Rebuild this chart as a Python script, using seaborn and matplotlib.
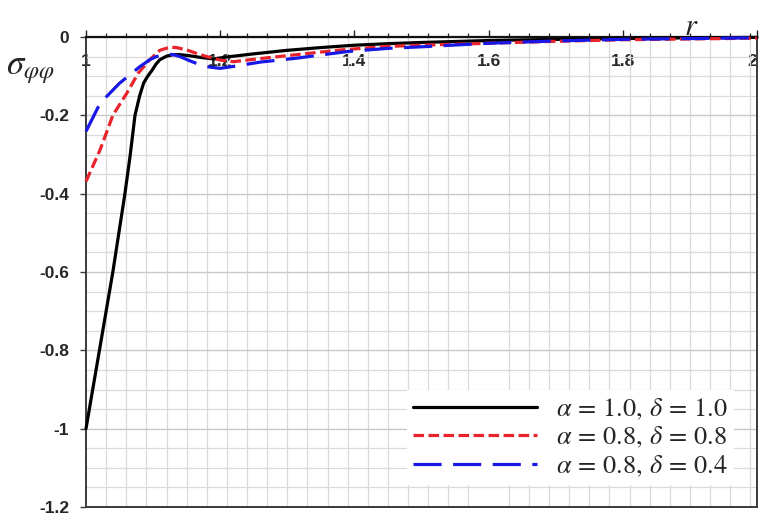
import numpy as np
import pandas as pd
import matplotlib
matplotlib.use("Agg")
import matplotlib.pyplot as plt
from matplotlib.ticker import MultipleLocator, FixedLocator
import seaborn as sns

labels = [r"$\alpha\,=\,1.0,\,\delta\,=\,1.0$",
          r"$\alpha\,=\,0.8,\,\delta\,=\,0.8$",
          r"$\alpha\,=\,0.8,\,\delta\,=\,0.4$"]

r_black = [1.00, 1.02, 1.04, 1.058, 1.066, 1.073, 1.08, 1.086, 1.092, 1.098, 1.104, 1.11, 1.12, 1.13,
           1.14, 1.155, 1.17, 1.19, 1.21, 1.25, 1.30, 1.35, 1.40, 1.45, 1.50, 1.60, 1.70, 1.80, 1.90, 2.00]
s_black = [-1.00, -0.80, -0.60, -0.40, -0.30, -0.20, -0.15, -0.117, -0.10, -0.086, -0.070, -0.058, -0.049, -0.045,
           -0.045, -0.048, -0.052, -0.056, -0.051, -0.043, -0.034, -0.027, -0.021, -0.017, -0.014, -0.009, -0.006, -0.004, -0.002, -0.001]

r_red = [1.00, 1.021, 1.04, 1.061, 1.078, 1.095, 1.11, 1.125, 1.135, 1.15, 1.165, 1.18, 1.20, 1.22,
         1.26, 1.314, 1.38, 1.45, 1.50, 1.60, 1.70, 1.80, 1.90, 2.00]
s_red = [-0.369, -0.288, -0.200, -0.143, -0.092, -0.058, -0.034, -0.026, -0.027, -0.033, -0.042, -0.050, -0.059, -0.063,
         -0.055, -0.045, -0.033, -0.024, -0.021, -0.016, -0.011, -0.007, -0.005, -0.003]

r_blue = [1.00, 1.021, 1.05, 1.08, 1.095, 1.105, 1.12, 1.13, 1.14, 1.155, 1.17, 1.185, 1.20, 1.22,
          1.26, 1.314, 1.39, 1.45, 1.50, 1.60, 1.70, 1.80, 1.90, 2.00]
s_blue = [-0.241, -0.169, -0.118, -0.076, -0.058, -0.050, -0.044, -0.045, -0.050, -0.061, -0.071, -0.077, -0.080, -0.075,
          -0.064, -0.054, -0.037, -0.029, -0.025, -0.016, -0.010, -0.006, -0.004, -0.002]

x_ticks = [1.0, 1.2, 1.4, 1.6, 1.8, 2.0]
x_ticklabels = ["1", "1.2", "1.4", "1.6", "1.8", "2"]
y_ticks = [0, -0.2, -0.4, -0.6, -0.8, -1.0, -1.2]
y_ticklabels = ["0", "-0.2", "-0.4", "-0.6", "-0.8", "-1", "-1.2"]

df = pd.concat([
    pd.DataFrame({"r": r_black, "s": s_black, "series": labels[0]}),
    pd.DataFrame({"r": r_red, "s": s_red, "series": labels[1]}),
    pd.DataFrame({"r": r_blue, "s": s_blue, "series": labels[2]}),
], ignore_index=True)

# ---- style ----
sns.set_theme(style="white")
plt.rcParams["font.family"] = ["Liberation Sans", "DejaVu Sans"]
plt.rcParams["mathtext.fontset"] = "stix"

W, H = 759, 517
fig = plt.figure(figsize=(W / 100, H / 100), dpi=100)
ax = fig.add_axes([86 / W, 1 - 507 / H, (757 - 86) / W, (507 - 37) / H])

palette = {labels[0]: "#000000", labels[1]: "#e8232b", labels[2]: "#1818e6"}
dashes = {labels[0]: "", labels[1]: (3.3, 1.4), labels[2]: (8.8, 3.6)}
sns.lineplot(data=df, x="r", y="s", hue="series", style="series",
             palette=palette, dashes=dashes, sort=False, estimator=None,
             linewidth=2.3, legend=False, ax=ax)
for ln in ax.lines:
    ln.set_clip_on(False)
    ln.set_zorder(4)

ax.set_xlim(1, 2)
ax.set_ylim(-1.2, 0)

# axes/spines
ax.spines["bottom"].set_position(("data", 0))
ax.spines["top"].set_position(("data", -1.2))
ax.spines["bottom"].set_color("#111111")
ax.spines["bottom"].set_linewidth(1.6)
for sp in ["top", "left", "right"]:
    ax.spines[sp].set_color("#3a3a3a")
    ax.spines[sp].set_linewidth(1.4)

ax.xaxis.set_major_locator(FixedLocator(x_ticks))
ax.set_xticklabels(x_ticklabels)
ax.xaxis.set_minor_locator(MultipleLocator(0.03, offset=1.0))
ax.yaxis.set_major_locator(FixedLocator(y_ticks))
ax.set_yticklabels(y_ticklabels)
ax.yaxis.set_minor_locator(MultipleLocator(0.05))

ax.tick_params(axis="x", which="major", direction="in", length=5, width=1.0,
               color="#222222", pad=12, labelsize=12.5, labelcolor="#262626",
               bottom=True, top=False)
ax.tick_params(axis="x", which="minor", direction="in", length=3, width=0.9,
               color="#222222", bottom=True, top=False)
ax.tick_params(axis="y", which="major", direction="out", length=4, width=1.0,
               color="#3a3a3a", pad=8, labelsize=12.5, labelcolor="#262626", left=True)
ax.tick_params(axis="y", which="minor", length=0, left=False)
xtl = ax.get_xticklabels()
for t in xtl + ax.get_yticklabels():
    t.set_fontweight("bold")
xtl[-1].set_horizontalalignment("right")

ax.grid(False)
ax.grid(True, axis="x", which="minor", color="#dadada", linewidth=0.9)
ax.grid(True, axis="y", which="major", color="#c8c8c8", linewidth=1.0)
ax.grid(True, axis="y", which="minor", color="#dadada", linewidth=0.9)
ax.set_axisbelow(True)

ax.set_xlabel("")
ax.set_ylabel(r"$\sigma_{\varphi\varphi}$", rotation=0, fontsize=25, ha="left", va="center")
ax.yaxis.set_label_coords((6 - 86) / 671, (507 - 70) / 470)
ax.set_title(r"$r$", fontsize=22, loc="left", x=(684 - 86) / 671, y=1.005, pad=0)

handles = ax.lines[:3]
leg = ax.legend(handles, labels, loc="upper left", bbox_to_anchor=(0.478, 0.249),
                frameon=True, fancybox=False, facecolor="white", edgecolor="none",
                framealpha=1, fontsize=19, handlelength=4.7, handletextpad=0.7,
                labelspacing=0.12, borderpad=0.25, borderaxespad=0)
leg.set_zorder(5)

fig.savefig("out.png", dpi=100)
